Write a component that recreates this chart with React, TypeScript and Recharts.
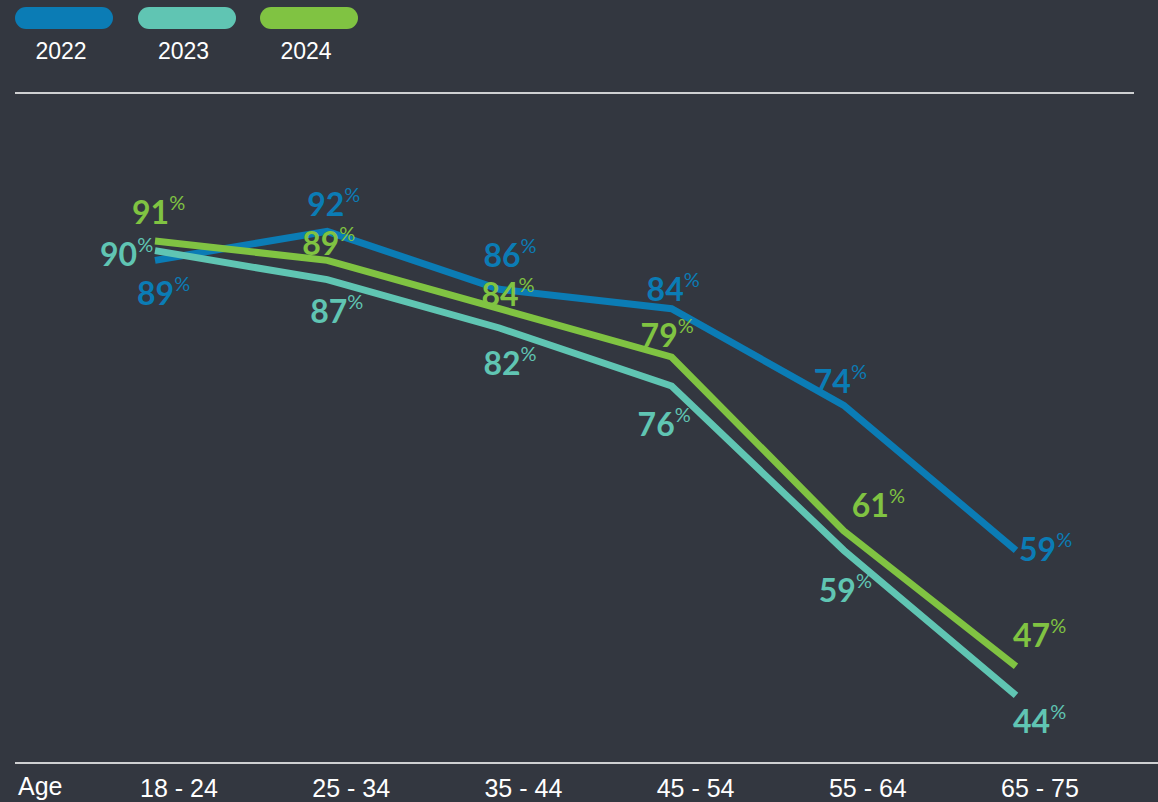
import React from "react";
import { LineChart, Line, XAxis, YAxis, LabelList } from "recharts";

const ageGroups = ["18 - 24", "25 - 34", "35 - 44", "45 - 54", "55 - 64", "65 - 75"];
const years = ["2022", "2023", "2024"];
const values2022 = [89, 92, 86, 84, 74, 59];
const values2023 = [90, 87, 82, 76, 59, 44];
const values2024 = [91, 89, 84, 79, 61, 47];

const COLORS: Record<string, string> = {
  "2022": "#0b7cb5",
  "2023": "#60c5b3",
  "2024": "#80c342",
};

// where each value label sits relative to its point: [dx, dy]
const labelOffsets: Record<string, [number, number][]> = {
  "2022": [[-18, 45], [-20, -15], [-16, -22], [-25, -8], [-30, -12], [3, 11]],
  "2023": [[-55, 15], [-17, 43], [-16, 47], [-34, 50], [-25, 52], [-3, 38]],
  "2024": [[-23, -17], [-25, -5], [-18, -3], [-31, -10], [8, -14], [-3, -19]],
};

const chartData = ageGroups.map((age, i) => ({
  age,
  "2022": values2022[i],
  "2023": values2023[i],
  "2024": values2024[i],
}));

const makeLabel = (year: string) => (props: any) => {
  const { x, y, value, index } = props;
  const [dx, dy] = labelOffsets[year][index];
  return (
    <text
      x={x + dx}
      y={y + dy}
      fill={COLORS[year]}
      fontFamily="Lato, 'Open Sans', sans-serif"
      fontWeight={700}
      fontSize={32}
    >
      {value}
      <tspan fontSize={20} fontWeight={400} dy={-14}>
        %
      </tspan>
    </text>
  );
};

const AgeTick = (props: any) => {
  const { x, y, payload } = props;
  return (
    <text
      x={x + 24}
      y={y + 34}
      textAnchor="middle"
      fill="#ffffff"
      fontFamily="'Liberation Sans', Arial, sans-serif"
      fontSize={25}
    >
      {payload.value}
    </text>
  );
};

export default function App() {
  return (
    <div
      style={{
        position: "absolute",
        left: 0,
        top: 0,
        width: 1158,
        height: 802,
        background: "#333740",
        overflow: "hidden",
      }}
    >
      {/* legend */}
      {years.map((year, i) => (
        <div
          key={year}
          style={{ position: "absolute", left: 15 + i * 122.5, top: 7, width: 98 }}
        >
          <div
            style={{
              height: 22,
              borderRadius: 11,
              background: COLORS[year],
            }}
          />
          <div
            style={{
              marginTop: 8,
              textAlign: "center",
              color: "#ffffff",
              fontFamily: "'Liberation Sans', Arial, sans-serif",
              fontSize: 23,
              lineHeight: "28px",
              marginLeft: -6,
            }}
          >
            {year}
          </div>
        </div>
      ))}
      <div
        style={{
          position: "absolute",
          left: 15,
          top: 92,
          width: 1119,
          height: 2,
          background: "#cfd0d2",
        }}
      />

      <div style={{ position: "absolute", left: 0, top: 0 }}>
        <LineChart
          width={1158}
          height={802}
          data={chartData}
          margin={{ top: 154, right: 0, left: 15, bottom: 0 }}
        >
          <XAxis
            dataKey="age"
            height={39}
            interval={0}
            tickLine={false}
            tickSize={0}
            tickMargin={0}
            padding={{ left: 140, right: 142 }}
            axisLine={{ stroke: "#cfd0d2", strokeWidth: 2 }}
            tick={<AgeTick />}
            label={{
              value: "Age",
              position: "insideLeft",
              offset: 3,
              dy: 4,
              fill: "#ffffff",
              fontSize: 25,
              fontFamily: "'Liberation Sans', Arial, sans-serif",
            }}
          />
          <YAxis type="number" domain={[37, 100]} hide />
          {years.map((year) => (
            <Line
              key={year}
              type="linear"
              dataKey={year}
              stroke={COLORS[year]}
              strokeWidth={7}
              strokeLinejoin="miter"
              dot={false}
              activeDot={false}
              isAnimationActive={false}
            >
              <LabelList dataKey={year} content={makeLabel(year)} />
            </Line>
          ))}
        </LineChart>
      </div>
    </div>
  );
}
